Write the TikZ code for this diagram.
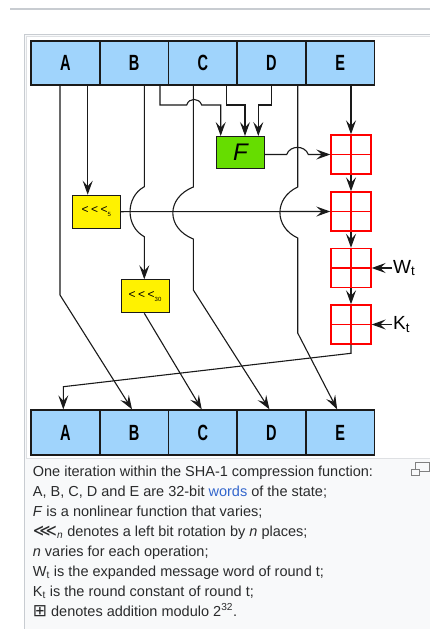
\documentclass[tikz,border=0pt]{standalone}
\usepackage{fontspec}
\setmainfont{Liberation Sans}
\newfontfamily\symfont{DejaVu Sans}
\usetikzlibrary{positioning,calc}
\usetikzlibrary{arrows.meta}

\definecolor{regblue}{HTML}{A0D4FC}
\definecolor{fgreen}{HTML}{66DD00}
\definecolor{framegray}{HTML}{C8CCD1}
\definecolor{framebg}{HTML}{F8F9FA}
\definecolor{captext}{HTML}{2A2B2C}
\definecolor{linkblue}{HTML}{3366CC}
\definecolor{wire}{HTML}{1A1A1A}

\newcommand{\reglabel}[1]{\scalebox{0.66}[1]{\fontsize{22}{22}\selectfont\bfseries #1}}
\newcommand{\rotlabel}[1]{{\fontsize{12}{12}\selectfont <\hspace{2.5pt}<\hspace{2.5pt}<}\raisebox{-3pt}{\fontsize{6}{6}\selectfont #1}}

\begin{document}
\begin{tikzpicture}[x=1pt,y=-1pt,>={Stealth[length=14pt,width=10pt,inset=5.5pt]},
  reg/.style={draw=wire,line width=1.8pt,fill=regblue,minimum width=68.7pt,minimum height=44.5pt,inner sep=0pt},
  rotbox/.style={draw=wire,line width=1pt,fill=yellow,minimum width=48pt,minimum height=33pt,inner sep=0pt},
  funbox/.style={draw=wire,line width=1pt,fill=fgreen,minimum width=48pt,minimum height=32pt,inner sep=0pt},
  adder/.style={draw=red,line width=1.4pt,minimum width=40pt,minimum height=39pt,inner sep=0pt,
    path picture={\draw[red,line width=1.4pt] (path picture bounding box.north) -- (path picture bounding box.south)
      (path picture bounding box.west) -- (path picture bounding box.east);}},
  wireline/.style={draw=wire,line width=1.1pt},
  caption/.style={anchor=base west,inner sep=0pt,text=captext,font=\fontsize{14.5}{14.5}\selectfont}]

\useasboundingbox (0,0) rectangle (430,629);

% Page rule and thumbnail frame
\draw[framegray,line width=1.2pt] (10,9) -- (430,9);
\draw[framegray,fill=framebg,line width=0.8pt] (24,34) rectangle (440,640);
\draw[framegray!60,fill=white,line width=0.6pt] (26.5,36.5) rectangle (440,458);

% Registers before the round
\node[reg] (tA) at (65.35,62.9) {\reglabel{A}};
\node[reg] (tB) at (134.05,62.9) {\reglabel{B}};
\node[reg] (tC) at (202.75,62.9) {\reglabel{C}};
\node[reg] (tD) at (271.45,62.9) {\reglabel{D}};
\node[reg] (tE) at (340.15,62.9) {\reglabel{E}};

% Registers after the round
\node[reg] (bA) at (65.35,432.5) {\reglabel{A}};
\node[reg] (bB) at (134.05,432.5) {\reglabel{B}};
\node[reg] (bC) at (202.75,432.5) {\reglabel{C}};
\node[reg] (bD) at (271.45,432.5) {\reglabel{D}};
\node[reg] (bE) at (340.15,432.5) {\reglabel{E}};

% Rotations and F
\node[rotbox] (rot5) at (96.2,211.7) {\rotlabel{5}};
\node[rotbox] (rot30) at (145,296.3) {\rotlabel{30}};
\node[funbox] (F) at (240.5,152.5) {\fontsize{24}{24}\selectfont\itshape F};

% Adders
\node[adder] (add1) at (351,154.5) {};
\node[adder] (add2) at (351,211.5) {};
\node[adder] (add3) at (351,268) {};
\node[adder] (add4) at (351,324.5) {};

\node[anchor=west,inner sep=1pt,font=\fontsize{19}{19}\selectfont] (wt) at (392,268) {W\textsubscript{t}};
\node[anchor=west,inner sep=1pt,font=\fontsize{19}{19}\selectfont] (kt) at (392,324.5) {K\textsubscript{t}};

% Inputs of F
\draw[wireline,->] (160,0 |- tB.south) -- (160,105) -- (186.7,105)
  .. controls (189,97.5) and (199,97.5) .. (201.7,105) -- (220.7,105) -- (220.7,0 |- F.north);
\draw[wireline,->] (226.7,0 |- tC.south) -- (226.7,105) -- (245,105) -- (245,0 |- F.north);
\draw[wireline,->] (271.7,0 |- tD.south) -- (271.7,105) -- (258.3,105) -- (258.3,0 |- F.north);

% A to rotation by 5, then into the sum
\draw[wireline,->] (87.7,0 |- tA.south) -- (87.7,0 |- rot5.north);
\draw[wireline,->] (rot5.east) -- (add2.west);

% Old A becomes B
\draw[wireline,->] (60,0 |- tA.south) -- (60,295) -- ([xshift=-2pt]bB.north);

% B rotated by 30 becomes C
\draw[wireline,->] (144.3,0 |- tB.south) -- (144.3,186.7)
  .. controls (125.3,197) and (125.3,226.4) .. (144.3,236.7) -- (144.3,0 |- rot30.north);
\draw[wireline,->] (144.3,0 |- rot30.south) -- ([xshift=-1pt]bC.north);

% Old C becomes D
\draw[wireline,->] (193.3,0 |- tC.south) -- (193.3,187)
  .. controls (166,198) and (166,228) .. (193.3,239) -- (193.3,290) -- ([xshift=-2pt]bD.north);

% Old D becomes E
\draw[wireline,->] (297.7,0 |- tD.south) -- (297.7,187)
  .. controls (274,198) and (274,227) .. (297.7,238) -- (297.7,333) -- ([xshift=-3pt]bE.north);

% Chain of additions
\draw[wireline,->] (F.east |- add1.west) -- (286.7,154.5)
  .. controls (290,145) and (305,145) .. (308.3,154.5) -- (add1.west);
\draw[wireline,->] (351,0 |- tE.south) -- (add1.north);
\draw[wireline,->] (add1.south) -- (add2.north);
\draw[wireline,->] (add2.south) -- (add3.north);
\draw[wireline,->] (add3.south) -- (add4.north);
\draw[wireline,->] (wt.west) -- (add3.east);
\draw[wireline,->] (kt.west) -- (add4.east);

% Sum becomes new A
\draw[wireline,->] (add4.south) -- (351,353.3) -- (63.3,386.7) -- (63.3,0 |- bA.north);

% Enlarge icon
\draw[gray,line width=0.9pt] (415,462.7) rectangle (429.3,471.7);
\draw[gray,line width=0.9pt,fill=framebg] (411,469.3) rectangle (419,475);

% Caption
\node[caption] (cap1) at (32.7,476) {One iteration within the SHA-1 compression function:};
\node[caption] (cap2) at (32.7,496) {A, B, C, D and E are 32-bit \textcolor{linkblue}{words} of the state;};
\node[caption] (cap3) at (32.7,516) {\textit{F} is a nonlinear function that varies;};
\node[caption] (cap4) at (32.7,536) {{\symfont\fontsize{17}{17}\selectfont ⋘}\textsubscript{\textit{n}} denotes a left bit rotation by \textit{n} places;};
\node[caption] (cap5) at (32.7,556) {\textit{n} varies for each operation;};
\node[caption] (cap6) at (32.7,576) {W\textsubscript{t} is the expanded message word of round t;};
\node[caption] (cap7) at (32.7,596) {K\textsubscript{t} is the round constant of round t;};
\node[caption] (cap8) at (32.7,616) {{\symfont\fontsize{17}{17}\selectfont ⊞} denotes addition modulo 2\textsuperscript{32}.};

\end{tikzpicture}
\end{document}
